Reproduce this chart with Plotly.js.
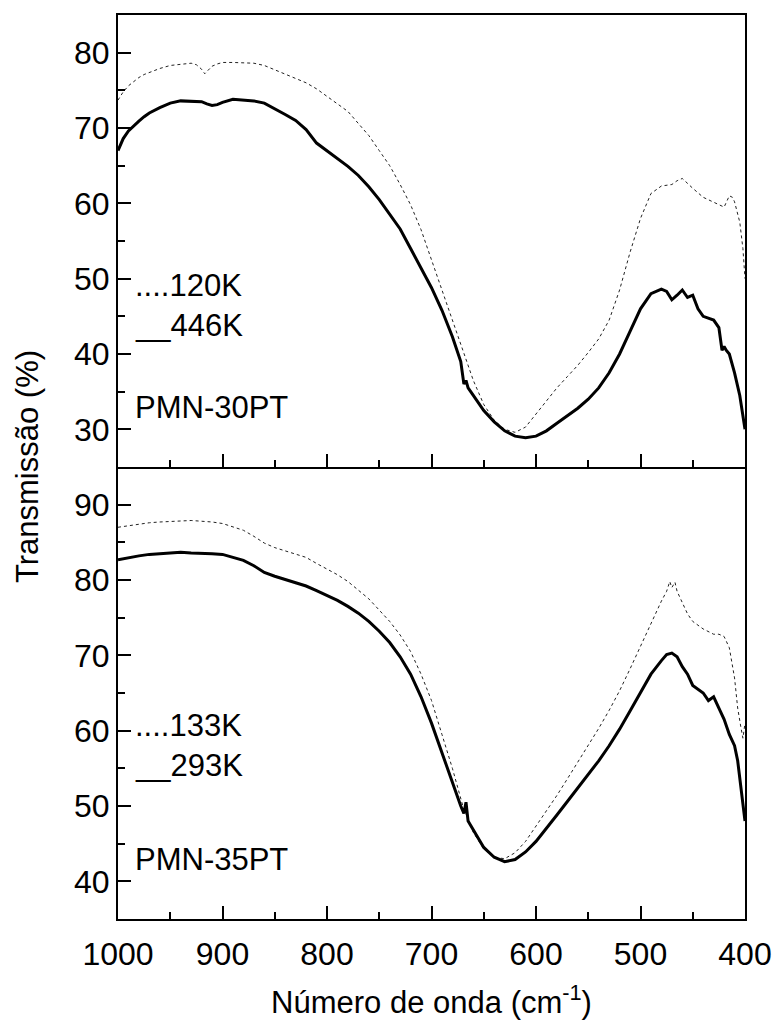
<!DOCTYPE html>
<html>
<head>
<meta charset="utf-8">
<script src="https://cdn.plot.ly/plotly-3.0.1.min.js"></script>
<style>body{margin:0;padding:0;background:#fff;}#chart{width:778px;height:1027px;}</style>
</head>
<body>
<div id="chart"></div>
<script>
// ---------- DATA ----------
// Top panel: PMN-30PT
const wn_30_120K = [1000,995,990,985,980,975,970,960,950,940,930,925,920,917,914,910,905,900,890,880,870,860,850,840,830,820,810,800,790,780,770,760,750,740,730,720,710,700,690,680,670,660,650,640,630,620,610,600,590,580,570,560,550,540,530,520,510,500,490,480,470,465,460,455,450,440,430,425,420,415,412,410,405,402,400];
const tr_30_120K = [73.7,74.8,75.6,76.2,76.7,77.1,77.4,77.9,78.3,78.5,78.6,78.4,77.8,77.2,77.6,78.2,78.5,78.7,78.7,78.7,78.6,78.3,77.7,77.2,76.6,76.0,75.2,74.2,73.2,72.2,70.6,69.0,67.0,65.0,62.5,59.8,56.5,52.5,48.5,44.5,40.5,36.5,33.3,31.2,30.0,29.6,30.3,32.0,33.8,35.5,37.0,38.5,40.2,42.0,44.5,48.5,53.5,58.0,61.3,62.3,62.5,63.0,63.3,62.6,62.0,60.8,60.2,59.8,59.5,61.0,60.8,60.2,57.5,54.0,50.0];

const wn_30_446K = [1000,995,990,985,980,975,970,960,950,940,930,920,915,910,905,900,890,880,870,860,850,840,830,820,810,800,790,780,770,760,750,740,730,720,710,700,690,680,672,669,667,665,660,650,640,630,620,610,600,590,580,570,560,550,540,530,520,510,500,490,480,475,470,465,460,455,450,445,440,430,425,422,420,418,415,410,405,400];
const tr_30_446K = [67.0,68.6,69.6,70.3,70.9,71.5,72.0,72.7,73.3,73.6,73.6,73.5,73.2,73.0,73.1,73.4,73.8,73.7,73.6,73.3,72.6,71.8,71.0,69.8,68.0,67.0,66.0,64.9,63.7,62.2,60.5,58.6,56.6,54.0,51.5,48.8,45.8,42.3,39.0,36.0,36.5,35.5,34.5,32.5,31.0,29.8,29.1,28.9,29.1,29.8,30.8,31.8,32.8,34.0,35.5,37.5,40.0,43.0,46.0,48.0,48.6,48.3,47.2,47.8,48.5,47.5,47.8,46.0,45.0,44.5,43.5,40.5,41.0,40.5,40.0,37.5,34.5,30.0];

// Bottom panel: PMN-35PT
const wn_35_133K = [1000,990,980,970,960,950,940,930,920,910,900,890,880,870,860,850,840,830,820,810,800,790,780,770,760,750,740,730,720,710,700,690,680,670,660,650,640,630,620,610,600,590,580,570,560,550,540,530,520,510,500,490,480,475,472,470,467,465,460,455,450,440,430,425,420,415,410,407,404,402,400];
const tr_35_133K = [87.0,87.2,87.4,87.6,87.7,87.8,87.9,87.9,87.8,87.7,87.5,87.1,86.6,85.8,84.9,84.3,83.9,83.5,83.0,82.2,81.5,80.7,79.8,78.7,77.5,76.0,74.5,72.7,70.5,67.5,64.0,59.5,55.0,50.0,46.5,44.3,43.2,43.0,43.8,45.3,47.3,49.3,51.4,53.6,55.8,58.0,60.3,62.7,65.3,68.2,71.2,74.3,77.2,78.5,79.8,79.0,79.7,78.5,77.0,75.5,74.5,73.5,72.8,72.8,72.5,71.0,67.0,63.0,60.5,59.0,61.0];

const wn_35_293K = [1000,990,980,970,960,950,940,930,920,910,900,890,880,870,860,850,840,830,820,810,800,790,780,770,760,750,740,730,720,710,700,690,680,672,669,667,665,660,650,640,630,620,610,600,590,580,570,560,550,540,530,520,510,500,490,480,475,470,465,460,455,450,445,440,435,430,425,420,415,410,407,404,402,400];
const tr_35_293K = [82.7,83.0,83.2,83.4,83.5,83.6,83.7,83.6,83.6,83.5,83.4,83.0,82.6,81.9,81.0,80.5,80.1,79.7,79.2,78.6,78.0,77.3,76.5,75.6,74.5,73.2,71.7,69.8,67.5,64.5,61.0,57.0,53.0,50.0,49.0,50.5,48.0,46.8,44.5,43.2,42.6,42.9,43.9,45.3,47.0,48.8,50.6,52.4,54.2,56.0,58.0,60.2,62.6,65.0,67.5,69.3,70.1,70.3,69.8,68.5,67.5,66.0,65.5,65.0,64.0,64.5,63.0,61.5,59.5,58.0,56.0,52.5,50.5,48.0];

const xTickVals = [1000,900,800,700,600,500,400];
const labelsTop = ["....120K", "__446K", "PMN-30PT"];
const labelsBottom = ["....133K", "__293K", "PMN-35PT"];
const xTitle = "Número de onda (cm<sup>-1</sup>)";
const yTitle = "Transmissão (%)";

// ---------- CHART ----------
const FONT = "Arial, 'Liberation Sans', sans-serif";
const dotLine = {color: "#222", width: 1, dash: "dot"};
const solidLine = {color: "#000", width: 3};

const traces = [
  {x: wn_30_120K, y: tr_30_120K, xaxis: "x2", yaxis: "y", mode: "lines", line: dotLine, hoverinfo: "skip"},
  {x: wn_30_446K, y: tr_30_446K, xaxis: "x2", yaxis: "y", mode: "lines", line: solidLine, hoverinfo: "skip"},
  {x: wn_35_133K, y: tr_35_133K, xaxis: "x", yaxis: "y2", mode: "lines", line: dotLine, hoverinfo: "skip"},
  {x: wn_35_293K, y: tr_35_293K, xaxis: "x", yaxis: "y2", mode: "lines", line: solidLine, hoverinfo: "skip"}
];

const common = {
  showline: true, linecolor: "#000", linewidth: 2, mirror: true,
  ticks: "inside", ticklen: 13, tickwidth: 2, tickcolor: "#000",
  showgrid: false, zeroline: false,
  tickfont: {family: FONT, size: 32, color: "#000"}
};
const xCommon = Object.assign({}, common, {
  range: [1000, 400], tickvals: xTickVals,
  minor: {dtick: 50, tick0: 0, ticks: "inside", ticklen: 7, tickwidth: 2, tickcolor: "#000"}
});
const yMinor = {dtick: 5, tick0: 0, ticks: "inside", ticklen: 7, tickwidth: 2, tickcolor: "#000"};

function ann(text, x, y) {
  return {text: text, xref: "paper", yref: "paper", x: x, y: y, xanchor: "left", yanchor: "middle",
          showarrow: false, font: {family: FONT, size: 31, color: "#000"}};
}

const layout = {
  width: 778, height: 1027,
  margin: {l: 118, r: 33, t: 15, b: 108},
  paper_bgcolor: "#fff", plot_bgcolor: "#fff",
  showlegend: false,
  xaxis: Object.assign({}, xCommon, {
    domain: [0, 1], anchor: "y2", mirror: false,
    ticklabelstandoff: 6,
    title: {text: xTitle, font: {family: FONT, size: 31, color: "#000"}, standoff: 20}
  }),
  xaxis2: Object.assign({}, xCommon, {domain: [0, 1], anchor: "y", matches: "x", showticklabels: false}),
  yaxis: Object.assign({}, common, {domain: [0.5, 1], anchor: "x2", range: [25, 85], dtick: 10, tick0: 0, minor: yMinor}),
  yaxis2: Object.assign({}, common, {domain: [0, 0.5], anchor: "x", range: [35, 95], dtick: 10, tick0: 0, minor: yMinor}),
  annotations: [
    ann(labelsTop[0], 0.024, 0.701),
    ann(labelsTop[1], 0.024, 0.657),
    ann(labelsTop[2], 0.024, 0.566),
    ann(labelsBottom[0], 0.024, 0.2146),
    ann(labelsBottom[1], 0.024, 0.170),
    ann(labelsBottom[2], 0.024, 0.0653),
    {text: yTitle, xref: "paper", yref: "paper", x: -0.145, y: 0.5, xanchor: "center", yanchor: "middle",
     textangle: -90, showarrow: false, font: {family: FONT, size: 31, color: "#000"}}
  ]
};

Plotly.newPlot("chart", traces, layout, {staticPlot: true, displayModeBar: false});
</script>
</body>
</html>
